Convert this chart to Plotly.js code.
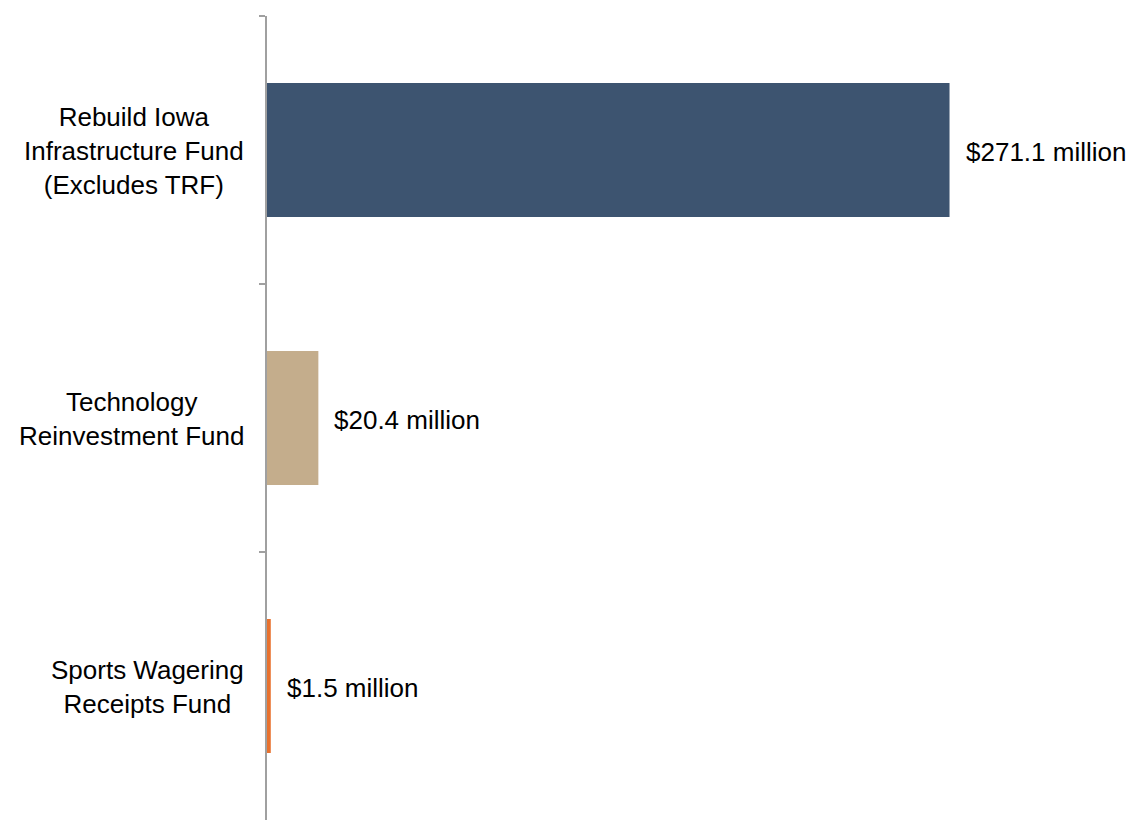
<!DOCTYPE html>
<html>
<head>
<meta charset="utf-8">
<script src="https://cdn.plot.ly/plotly-3.0.1.min.js"></script>
<style>
  html, body { margin: 0; padding: 0; background: #fff; }
  #chart { width: 1134px; height: 822px; }
</style>
</head>
<body>
<div id="chart"></div>
<script>
// Data
var categories = [
  "Rebuild Iowa<br>Infrastructure Fund<br>(Excludes TRF)",
  "Technology<br>Reinvestment Fund",
  "Sports Wagering<br>Receipts Fund"
];
var values = [271.1, 20.4, 1.5];
var barColors = ["#3D5470", "#C4AD8C", "#E8712D"];

var FONT = "Liberation Sans, Arial, sans-serif";

var trace = {
  type: "bar",
  orientation: "h",
  y: categories,
  x: values,
  marker: { color: barColors, line: { width: 0 } },
  hoverinfo: "none"
};

var annotations = [];
categories.forEach(function (c, i) {
  // category label
  annotations.push({
    xref: "paper", x: 0, yref: "y", y: c,
    xanchor: "right", yanchor: "middle", align: "center",
    xshift: -21, yshift: -1, showarrow: false, text: c,
    font: { family: FONT, size: 26, color: "#000" }
  });
  // value label
  annotations.push({
    xref: "x", x: values[i], yref: "y", y: c,
    xanchor: "left", yanchor: "middle", align: "left",
    xshift: 14, yshift: -2, showarrow: false,
    text: "$" + values[i].toFixed(1) + " million",
    font: { family: FONT, size: 26, color: "#000" }
  });
});

var layout = {
  width: 1134, height: 822,
  margin: { l: 267, r: 11, t: 16, b: 2 },
  paper_bgcolor: "#fff", plot_bgcolor: "#fff",
  showlegend: false,
  bargap: 0.5,
  font: { family: FONT, size: 26, color: "#000" },
  xaxis: { range: [0, 340], visible: false, fixedrange: true },
  yaxis: {
    type: "category",
    range: [2.5, -0.5],
    showticklabels: false,
    ticks: "outside", ticklen: 6, tickwidth: 2, tickcolor: "#A0A0A0",
    tickson: "boundaries",
    showline: true, linecolor: "#A0A0A0", linewidth: 2,
    showgrid: false, zeroline: false, fixedrange: true
  },
  annotations: annotations
};

Plotly.newPlot("chart", [trace], layout, { displayModeBar: false, staticPlot: true });
</script>
</body>
</html>
